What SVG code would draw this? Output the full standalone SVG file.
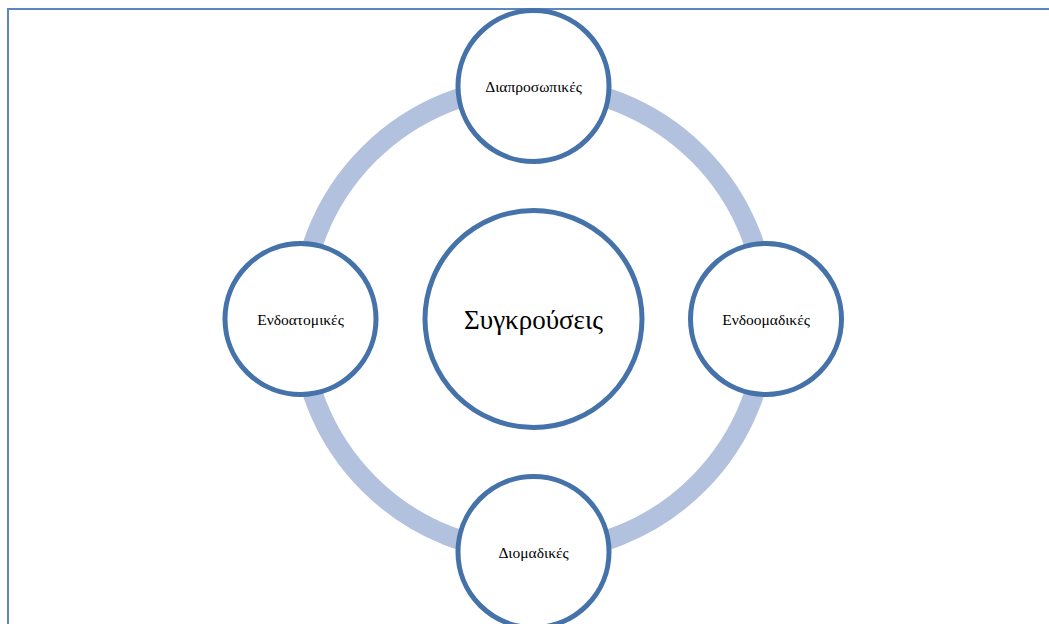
<svg xmlns="http://www.w3.org/2000/svg" width="1049" height="624" viewBox="0 0 1049 624">
  <style>
    .frame { fill: none; stroke: #5a86c2; stroke-width: 2; }
    .ring { fill: none; stroke: #b2c2de; stroke-width: 20; }
    .node { fill: #ffffff; stroke: #4672aa; stroke-width: 5; }
    .label { font-family: "Liberation Serif", "DejaVu Serif", serif; font-size: 15.5px; fill: #000000; text-anchor: middle; dominant-baseline: central; }
    .title { font-size: 27px; }
  </style>
  <rect width="1049" height="624" fill="#ffffff"/>
  <rect class="frame" x="8" y="9" width="1060" height="640"/>

  <g id="connectors">
    <circle class="ring" cx="533.5" cy="319" r="233"/>
  </g>

  <g id="node-center">
    <circle class="node" cx="533.5" cy="319" r="108.5"/>
    <text class="label title" x="533.5" y="320">Συγκρούσεις</text>
  </g>
  <g id="node-top">
    <circle class="node" cx="533.5" cy="86" r="75.5"/>
    <text class="label" x="533.5" y="86">Διαπροσωπικές</text>
  </g>
  <g id="node-right">
    <circle class="node" cx="766" cy="319" r="75.5"/>
    <text class="label" x="766" y="319">Ενδοομαδικές</text>
  </g>
  <g id="node-bottom">
    <circle class="node" cx="533.5" cy="552" r="75.5"/>
    <text class="label" x="533.5" y="552">Διομαδικές</text>
  </g>
  <g id="node-left">
    <circle class="node" cx="300.5" cy="319" r="75.5"/>
    <text class="label" x="300.5" y="319">Ενδοατομικές</text>
  </g>
</svg>
